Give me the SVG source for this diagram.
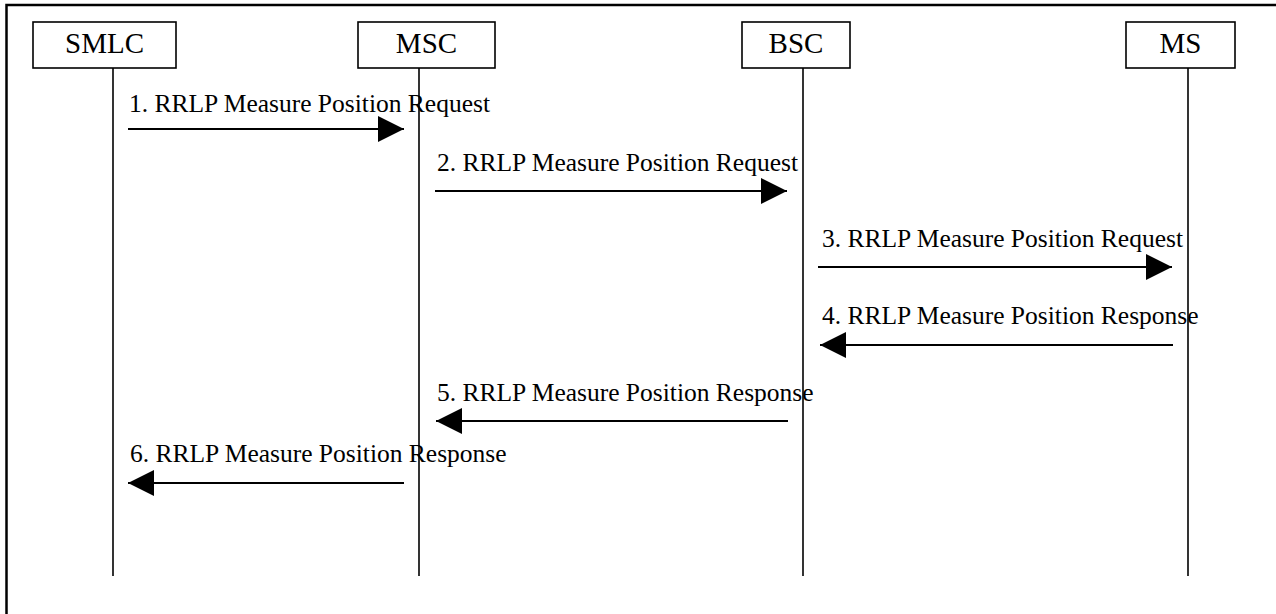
<svg xmlns="http://www.w3.org/2000/svg" width="1276" height="614" viewBox="0 0 1276 614">
<style>
.box{fill:#fff;stroke:#000;stroke-width:1.6}
.life{stroke:#000;stroke-width:1.6;fill:none}
.msg{stroke:#000;stroke-width:1.8;fill:none}
.name{font-family:"Liberation Serif","Times New Roman",serif;font-size:29px;fill:#000;text-anchor:middle}
.lbl{font-family:"Liberation Serif","Times New Roman",serif;font-size:25.5px;fill:#000}
</style>
<defs>
<marker id="ah" markerUnits="userSpaceOnUse" markerWidth="26" markerHeight="26" viewBox="0 0 26 26" refX="26" refY="13" orient="auto">
<polygon points="0,0 26,13 0,26" fill="#000"/>
</marker>
</defs>
<rect x="6.5" y="5" width="1290" height="640" fill="none" stroke="#000" stroke-width="2.5"/>
<g id="SMLC">
<rect class="box" x="33" y="22" width="143" height="46"/>
<text class="name" x="104.5" y="53">SMLC</text>
<line class="life" x1="113" y1="68" x2="113" y2="576"/>
</g>
<g id="MSC">
<rect class="box" x="358" y="22" width="137" height="46"/>
<text class="name" x="426.5" y="53">MSC</text>
<line class="life" x1="419" y1="68" x2="419" y2="576"/>
</g>
<g id="BSC">
<rect class="box" x="742" y="22" width="108" height="46"/>
<text class="name" x="796" y="53">BSC</text>
<line class="life" x1="803" y1="68" x2="803" y2="576"/>
</g>
<g id="MS">
<rect class="box" x="1126" y="22" width="109" height="46"/>
<text class="name" x="1180.5" y="53">MS</text>
<line class="life" x1="1188" y1="68" x2="1188" y2="576"/>
</g>
<g id="connectors">
<line class="msg" x1="128" y1="129" x2="404" y2="129" marker-end="url(#ah)"/>
<text class="lbl" x="129" y="112">1. RRLP Measure Position Request</text>
<line class="msg" x1="435" y1="191" x2="787" y2="191" marker-end="url(#ah)"/>
<text class="lbl" x="437" y="171">2. RRLP Measure Position Request</text>
<line class="msg" x1="818" y1="267" x2="1172" y2="267" marker-end="url(#ah)"/>
<text class="lbl" x="822" y="247">3. RRLP Measure Position Request</text>
<line class="msg" x1="1173" y1="345" x2="820" y2="345" marker-end="url(#ah)"/>
<text class="lbl" x="822" y="324">4. RRLP Measure Position Response</text>
<line class="msg" x1="788" y1="421" x2="436" y2="421" marker-end="url(#ah)"/>
<text class="lbl" x="437" y="401">5. RRLP Measure Position Response</text>
<line class="msg" x1="404" y1="483" x2="128" y2="483" marker-end="url(#ah)"/>
<text class="lbl" x="130" y="462">6. RRLP Measure Position Response</text>
</g>
</svg>
